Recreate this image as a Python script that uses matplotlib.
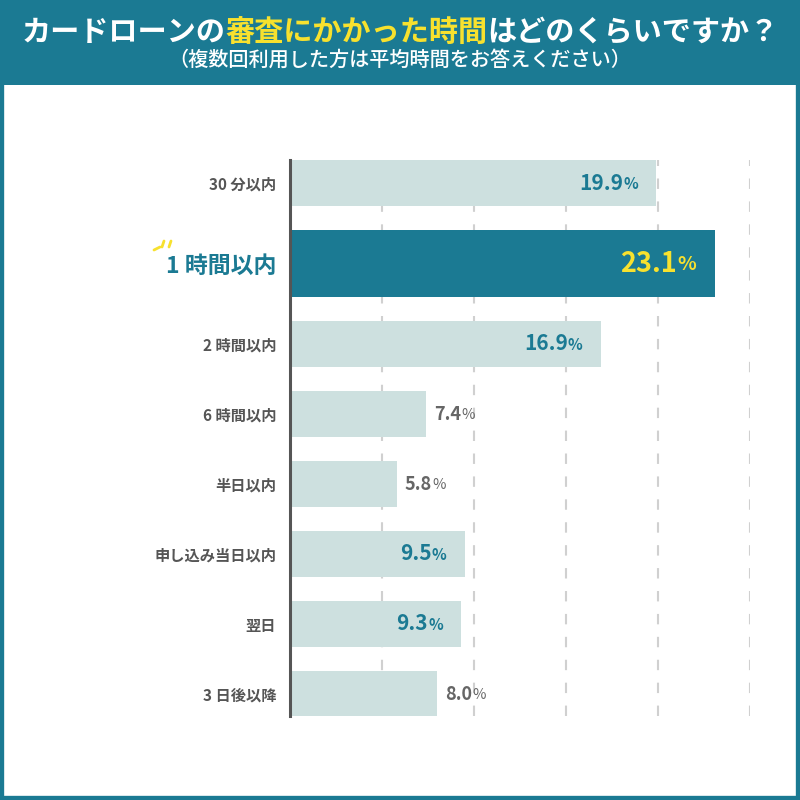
import matplotlib
matplotlib.use("Agg")
import matplotlib.pyplot as plt
from matplotlib.lines import Line2D
from matplotlib.patches import Rectangle

plt.rcParams['font.family'] = ['Noto Sans CJK JP', 'DejaVu Sans']

CATEGORIES = ["30 分以内", "1 時間以内", "2 時間以内", "6 時間以内", "半日以内",
              "申し込み当日以内", "翌日", "3 日後以降"]
VALUES = [19.9, 23.1, 16.9, 7.4, 5.8, 9.5, 9.3, 8.0]
HIGHLIGHT = 1
TITLE_PARTS = [("カードローンの", "white"), ("審査にかかった時間", "#f7e12e"),
               ("はどのくらいですか？", "white")]
SUBTITLE = "（複数回利用した方は平均時間をお答えください）"
XTICKS = [5, 10, 15, 20, 25]

TEAL = "#1b7a93"
LIGHT = "#cde0df"
GREY = "#666666"
YELLOW = "#f7e12e"

W = H = 800
fig = plt.figure(figsize=(8, 8), dpi=100)
fig.patch.set_facecolor("white")

# frame + header band
fig.patches.append(Rectangle((0, 0), 1, 1, transform=fig.transFigure,
                             facecolor="none", edgecolor=TEAL, linewidth=6, zorder=0))
fig.patches.append(Rectangle((0, 1 - 85 / H), 1, 85 / H, transform=fig.transFigure,
                             facecolor=TEAL, edgecolor="none", zorder=0))

# title built from coloured pieces
renderer = fig.canvas.get_renderer()
pieces = [fig.text(0, 1 - 32 / H, s, color=c, fontsize=21, fontweight="bold",
                   va="center", ha="left") for s, c in TITLE_PARTS]
widths = [t.get_window_extent(renderer).width for t in pieces]
x = (W - sum(widths)) / 2
for t, w in zip(pieces, widths):
    t.set_x(x / W)
    x += w
fig.text(0.5, 1 - 60 / H, SUBTITLE, color="white", fontsize=14.5,
         fontweight="medium", ha="center", va="center")

# bar layout in pixel units
heights = [67 if i == HIGHLIGHT else 46 for i in range(len(VALUES))]
gap = 24
centers = []
y = 160
for h in heights:
    centers.append(y + h / 2)
    y += h + gap

ax = fig.add_axes([290 / W, 1 - 716 / H, 460 / W, 556 / H])
ax.set_xlim(0, 25)
ax.set_ylim(716, 160)
colors = [TEAL if i == HIGHLIGHT else LIGHT for i in range(len(VALUES))]
ax.barh(centers, VALUES, height=heights, color=colors, zorder=2)

for xt in XTICKS:
    ax.axvline(xt, color="#d0d0d0", lw=1.5, ls=(0, (5, 6)), zorder=1)

for s in ["top", "right", "bottom"]:
    ax.spines[s].set_visible(False)
ax.spines["left"].set_color("#555555")
ax.spines["left"].set_linewidth(2.2)
ax.spines["left"].set_zorder(3)
ax.set_xticks([])
ax.set_yticks(centers)
ax.set_yticklabels(CATEGORIES)
ax.tick_params(axis="y", length=0, pad=10)
for i, lab in enumerate(ax.get_yticklabels()):
    if i == HIGHLIGHT:
        lab.set_fontsize(16.5)
        lab.set_color(TEAL)
    else:
        lab.set_fontsize(11)
        lab.set_color("#555555")
    lab.set_fontweight("bold")

# value labels
for i, (v, c) in enumerate(zip(VALUES, centers)):
    num = f"{v:.1f}"
    if i == HIGHLIGHT:
        ax.annotate(num, (v, c), xytext=(-38, 0), textcoords="offset pixels",
                    ha="right", va="center", fontsize=19.5, fontweight="bold", color=YELLOW)
        ax.annotate("%", (v, c), xytext=(-38, -1), textcoords="offset pixels",
                    ha="left", va="center", fontsize=14, fontweight="bold", color=YELLOW)
    elif v >= 9:
        ax.annotate(num, (v, c), xytext=(-33, 0), textcoords="offset pixels",
                    ha="right", va="center", fontsize=15, fontweight="bold", color=TEAL)
        ax.annotate("%", (v, c), xytext=(-33, -1), textcoords="offset pixels",
                    ha="left", va="center", fontsize=11, fontweight="bold", color=TEAL)
    else:
        t = ax.annotate(num, (v, c), xytext=(8, 0), textcoords="offset pixels",
                        ha="left", va="center", fontsize=13, fontweight="bold", color=GREY)
        w = t.get_window_extent(renderer).width
        ax.annotate("%", (v, c), xytext=(8 + w, -1), textcoords="offset pixels",
                    ha="left", va="center", fontsize=10.5, color=GREY)

# little yellow sparks next to the highlighted label
for (x0, y0, x1, y1) in [(154, 250, 160, 247), (162, 247, 164, 241), (169, 247, 171, 241)]:
    fig.lines.append(Line2D([x0 / W, x1 / W], [1 - y0 / H, 1 - y1 / H],
                            transform=fig.transFigure, color=YELLOW, lw=2,
                            solid_capstyle="round"))

fig.savefig("out.png", dpi=100)
